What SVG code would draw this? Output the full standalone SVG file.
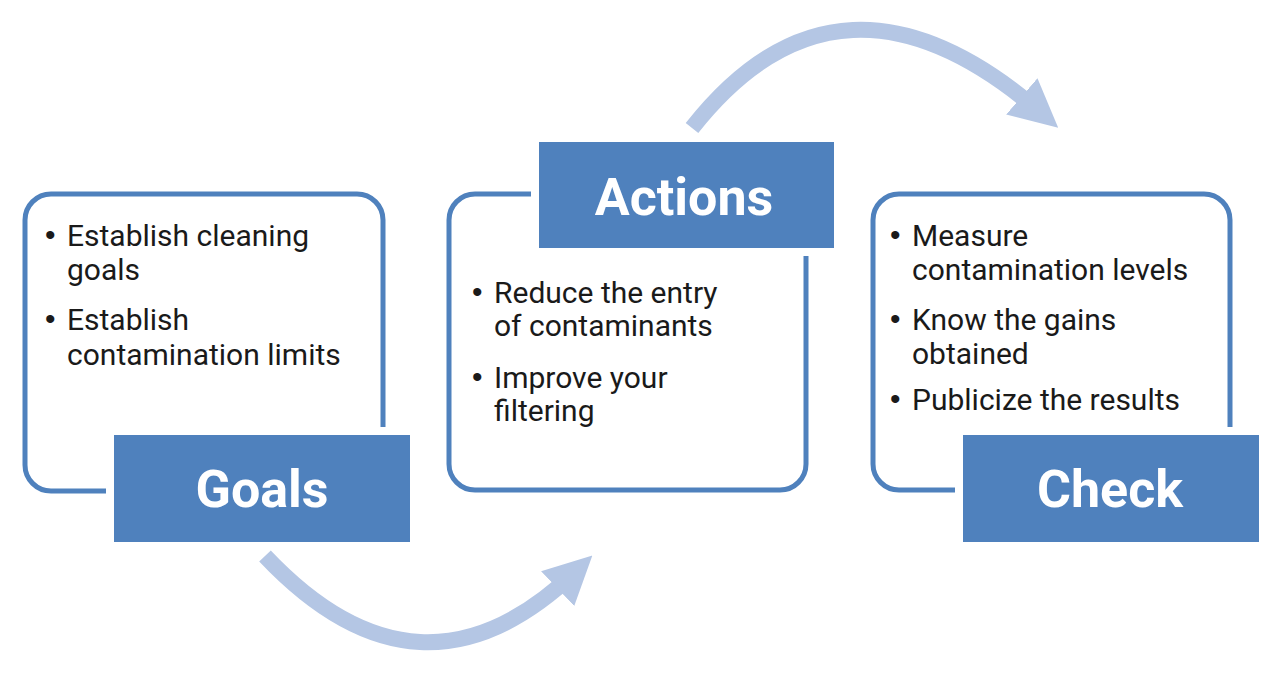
<svg xmlns="http://www.w3.org/2000/svg" width="1280" height="673" viewBox="0 0 1280 673">
<style>
.box{fill:#fff;stroke:#4f81bd;stroke-width:5}
.lab{fill:#4f81bd;stroke:#fff;stroke-width:8}
.lt{font-family:Roboto,"Liberation Sans",sans-serif;font-weight:bold;font-size:52px;fill:#fff;text-anchor:middle}
.bt{font-family:Roboto,"Liberation Sans",sans-serif;font-size:30px;fill:#1a1a1a}
.bu{font-family:"Liberation Sans",sans-serif;font-size:30px;fill:#1a1a1a}
.arc{fill:none;stroke:#b4c6e4;stroke-width:16}
</style>
<defs><marker id="ah" viewBox="0 0 10 10" refX="5" refY="5" markerWidth="3" markerHeight="3" orient="auto" markerUnits="strokeWidth"><path d="M0,0L10,5L0,10z" fill="#b4c6e4"/></marker></defs>
<rect width="1280" height="673" fill="#fff"/>
<g id="connectors">
<path class="arc" d="M265,556 Q420,720 575,572" marker-end="url(#ah)"/>
<path class="arc" d="M692,128 Q840,-60 1040,112" marker-end="url(#ah)"/>
</g>
<g id="goals">
<rect class="box" x="25" y="194" width="358" height="297" rx="26"/>
<rect class="lab" x="110" y="431" width="304" height="115" rx="3"/>
<text class="lt" x="262" y="507">Goals</text>
<text class="bu" x="45" y="245">•</text><text class="bt" x="67" y="246">Establish cleaning</text>
<text class="bt" x="67" y="280">goals</text>
<text class="bu" x="45" y="329">•</text><text class="bt" x="67" y="330">Establish</text>
<text class="bt" x="67" y="365">contamination limits</text>
</g>
<g id="actions">
<rect class="box" x="449" y="194" width="357" height="296" rx="26"/>
<rect class="lab" x="535" y="138" width="303" height="114" rx="3"/>
<text class="lt" x="684" y="215">Actions</text>
<text class="bu" x="472" y="302">•</text><text class="bt" x="494" y="303">Reduce the entry</text>
<text class="bt" x="494" y="336">of contaminants</text>
<text class="bu" x="472" y="387">•</text><text class="bt" x="494" y="388">Improve your</text>
<text class="bt" x="494" y="421">filtering</text>
</g>
<g id="check">
<rect class="box" x="873" y="194" width="357" height="296" rx="26"/>
<rect class="lab" x="959" y="431" width="304" height="115" rx="3"/>
<text class="lt" x="1110" y="507">Check</text>
<text class="bu" x="890" y="245">•</text><text class="bt" x="912" y="246">Measure</text>
<text class="bt" x="912" y="280">contamination levels</text>
<text class="bu" x="890" y="329">•</text><text class="bt" x="912" y="330">Know the gains</text>
<text class="bt" x="912" y="364">obtained</text>
<text class="bu" x="890" y="409">•</text><text class="bt" x="912" y="410">Publicize the results</text>
</g>
</svg>
